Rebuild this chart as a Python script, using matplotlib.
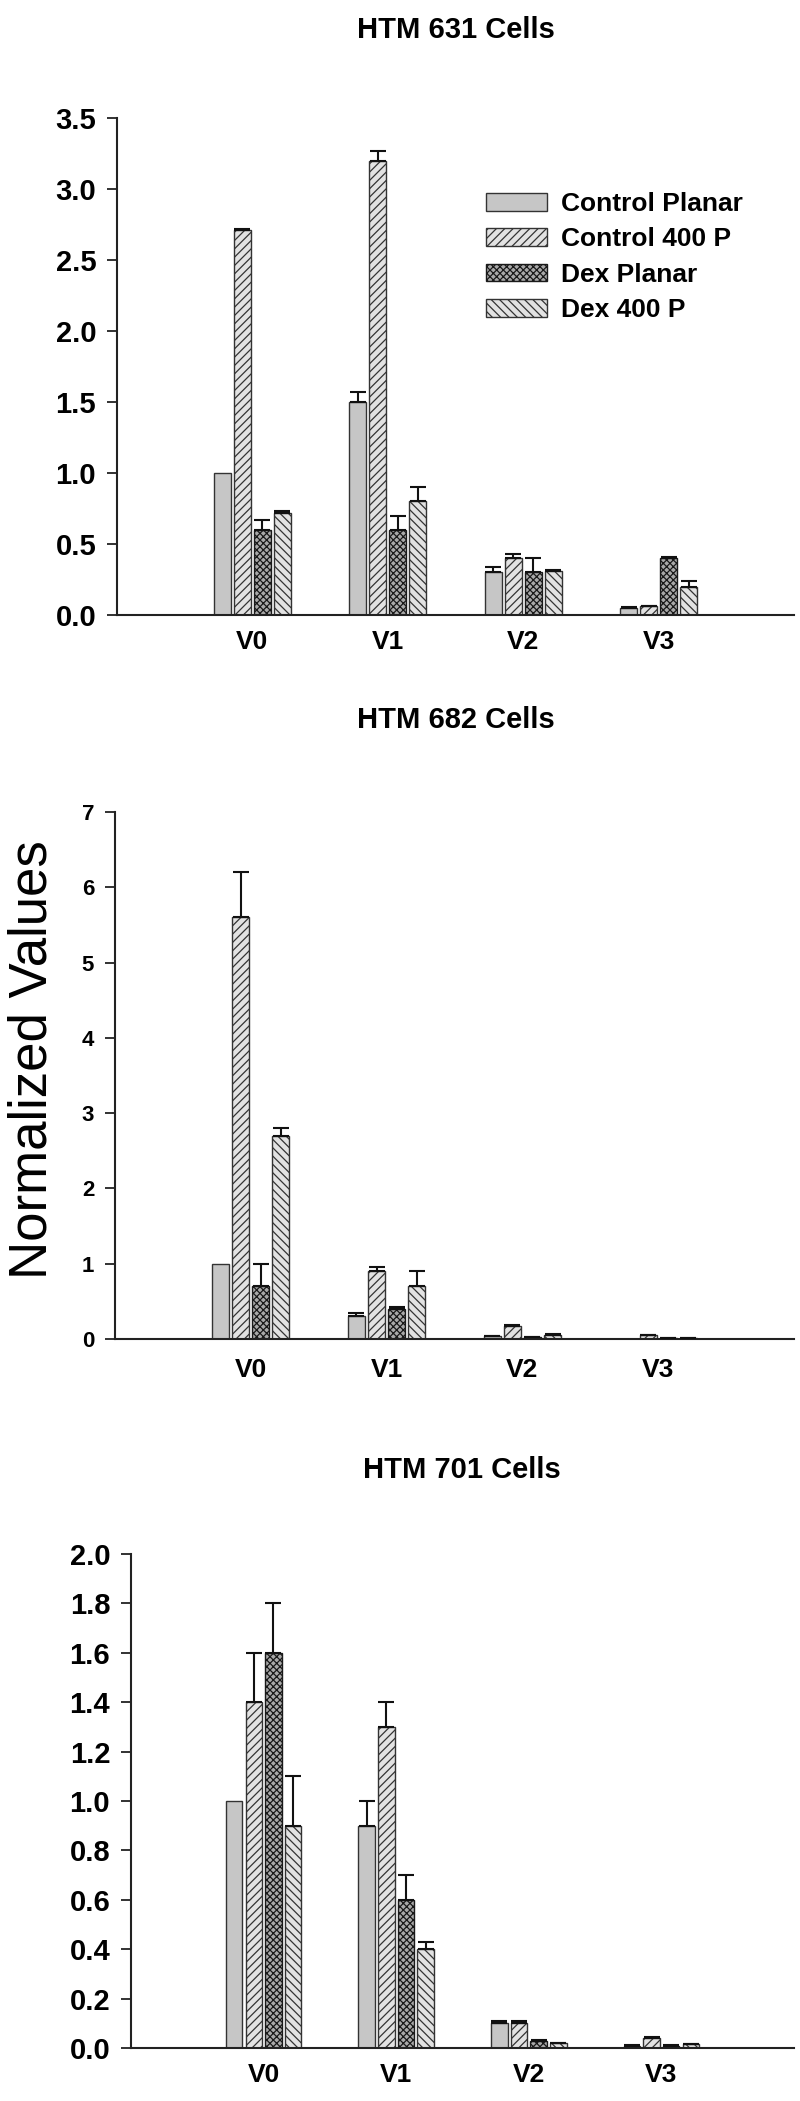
import numpy as np
import matplotlib
matplotlib.use('Agg')
import matplotlib.pyplot as plt

plt.rcParams['font.family'] = ['Liberation Sans', 'DejaVu Sans']
plt.rcParams['hatch.linewidth'] = 0.9

# ---------------- data ----------------
categories = ['V0', 'V1', 'V2', 'V3']
series = ['Control Planar', 'Control 400 P', 'Dex Planar', 'Dex 400 P']

titles = ['HTM 631 Cells', 'HTM 682 Cells', 'HTM 701 Cells']

# HTM 631
htm631_cp = [1.00, 1.50, 0.30, 0.05]
htm631_c400 = [2.71, 3.20, 0.40, 0.06]
htm631_dp = [0.60, 0.60, 0.30, 0.40]
htm631_d400 = [0.72, 0.80, 0.31, 0.20]
htm631_cp_err = [0.0, 0.07, 0.04, 0.005]
htm631_c400_err = [0.01, 0.07, 0.03, 0.005]
htm631_dp_err = [0.07, 0.10, 0.10, 0.01]
htm631_d400_err = [0.01, 0.10, 0.01, 0.04]

# HTM 682
htm682_cp = [1.00, 0.30, 0.04, 0.0]
htm682_c400 = [5.60, 0.90, 0.17, 0.05]
htm682_dp = [0.70, 0.40, 0.02, 0.01]
htm682_d400 = [2.70, 0.70, 0.05, 0.01]
htm682_cp_err = [0.0, 0.04, 0.005, 0.0]
htm682_c400_err = [0.60, 0.05, 0.01, 0.005]
htm682_dp_err = [0.30, 0.02, 0.005, 0.002]
htm682_d400_err = [0.10, 0.20, 0.01, 0.002]

# HTM 701
htm701_cp = [1.00, 0.90, 0.10, 0.01]
htm701_c400 = [1.40, 1.30, 0.10, 0.04]
htm701_dp = [1.60, 0.60, 0.03, 0.01]
htm701_d400 = [0.90, 0.40, 0.02, 0.015]
htm701_cp_err = [0.0, 0.10, 0.01, 0.002]
htm701_c400_err = [0.20, 0.10, 0.01, 0.004]
htm701_dp_err = [0.20, 0.10, 0.003, 0.002]
htm701_d400_err = [0.20, 0.03, 0.002, 0.003]

yticks_631 = [0.0, 0.5, 1.0, 1.5, 2.0, 2.5, 3.0, 3.5]
yticks_682 = [0, 1, 2, 3, 4, 5, 6, 7]
yticks_701 = [0.0, 0.2, 0.4, 0.6, 0.8, 1.0, 1.2, 1.4, 1.6, 1.8, 2.0]

# ---------------- styles ----------------
styles = [
    dict(fc='#c6c6c6', ec='#333333', hatch=None),
    dict(fc='#e2e2e2', ec='#333333', hatch='////'),
    dict(fc='#a9a9a9', ec='#1a1a1a', hatch='xxxxx'),
    dict(fc='#e2e2e2', ec='#333333', hatch='\\\\\\\\'),
]

W, H = 800, 2101
fig = plt.figure(figsize=(W / 100, H / 100), dpi=100)


def fx(px):
    return px / W


def fy(py):
    return 1 - py / H


pitch = 0.148
width = 0.125


def panel(rect, vals, errs, ylim, yticks, fmt, tick_fs, xpad):
    left, top, right, bottom = rect
    ax = fig.add_axes([fx(left), fy(bottom), fx(right) - fx(left), fy(top) - fy(bottom)])
    x = np.arange(len(categories))
    handles = []
    for i, (v, e, st) in enumerate(zip(vals, errs, styles)):
        pos = x + (i - 1.5) * pitch
        v = np.asarray(v, dtype=float)
        e = np.asarray(e, dtype=float)
        b = ax.bar(pos, v, width, facecolor=st['fc'], edgecolor=st['ec'],
                   hatch=st['hatch'], linewidth=1.0, zorder=2, label=series[i])
        handles.append(b)
        m = e > 0
        if m.any():
            ax.errorbar(pos[m], v[m], yerr=[np.zeros(m.sum()), e[m]], fmt='none',
                        ecolor='#111111', elinewidth=1.5, capsize=5.5, capthick=1.5,
                        zorder=3)
    ax.set_xlim(-1, 4)
    ax.set_ylim(*ylim)
    ax.set_yticks(yticks)
    ax.set_yticklabels([fmt.format(t) for t in yticks], fontsize=tick_fs, fontweight='bold')
    ax.set_xticks(x)
    ax.set_xticklabels(categories, fontsize=19, fontweight='bold')
    ax.tick_params(axis='x', length=0, pad=xpad)
    ax.tick_params(axis='y', length=7, width=1.3, pad=8, color='#222222')
    for s in ['top', 'right']:
        ax.spines[s].set_visible(False)
    for s in ['left', 'bottom']:
        ax.spines[s].set_linewidth(1.5)
        ax.spines[s].set_color('#222222')
    return ax, handles


# Panel 1
ax1, h1 = panel((117, 118, 794, 615),
                [htm631_cp, htm631_c400, htm631_dp, htm631_d400],
                [htm631_cp_err, htm631_c400_err, htm631_dp_err, htm631_d400_err],
                (0, 3.5), yticks_631, '{:.1f}', 21, 11)
fig.text(fx(456), fy(30), titles[0], ha='center', va='center', fontsize=21, fontweight='bold')

leg = ax1.legend(handles=h1, labels=series, loc='upper left',
                 bbox_to_anchor=(fx(486), fy(192)), bbox_transform=fig.transFigure,
                 frameon=False, prop={'weight': 'bold', 'size': 19},
                 handlelength=2.3, handleheight=0.65, handletextpad=0.55,
                 labelspacing=0.43, borderpad=0, borderaxespad=0)

# Panel 2
ax2, h2 = panel((115, 812, 794, 1339),
                [htm682_cp, htm682_c400, htm682_dp, htm682_d400],
                [htm682_cp_err, htm682_c400_err, htm682_dp_err, htm682_d400_err],
                (0, 7), yticks_682, '{:d}', 16, 14)
fig.text(fx(456), fy(720), titles[1], ha='center', va='center', fontsize=21, fontweight='bold')
fig.text(fx(33), fy(1060), 'Normalized Values', ha='center', va='center',
         rotation=90, fontsize=38)

# Panel 3
ax3, h3 = panel((131, 1554, 794, 2048),
                [htm701_cp, htm701_c400, htm701_dp, htm701_d400],
                [htm701_cp_err, htm701_c400_err, htm701_dp_err, htm701_d400_err],
                (0, 2.0), yticks_701, '{:.1f}', 21, 11)
fig.text(fx(462), fy(1470), titles[2], ha='center', va='center', fontsize=21, fontweight='bold')

fig.savefig('out.png', dpi=100, facecolor='white')
